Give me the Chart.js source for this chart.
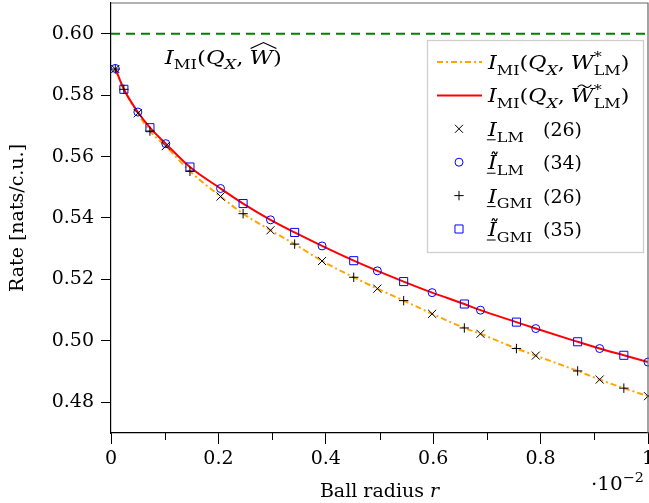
<!DOCTYPE html>
<html>
<head>
<meta charset="utf-8">
<script src="https://cdn.jsdelivr.net/npm/chart.js@4.4.1/dist/chart.umd.min.js"></script>
<style>
  html, body { margin: 0; padding: 0; background: #fff; }
  canvas { display: block; }
</style>
</head>
<body>
<canvas id="rateChart" width="649" height="503"></canvas>
<script>
// ball radius (x 10^-2) where the LM bounds were evaluated
const xLM = [0.008, 0.05, 0.102, 0.204, 0.297, 0.393, 0.496, 0.598, 0.688, 0.791, 0.91, 1.0];
const iLM = [0.5885, 0.5741, 0.5634, 0.547, 0.536, 0.526, 0.517, 0.5088, 0.5023, 0.4952, 0.4874, 0.482];
const iLMTilde = [0.5887, 0.5745, 0.5642, 0.5496, 0.5394, 0.5309, 0.5228, 0.5157, 0.51, 0.504, 0.4975, 0.4931];

// ball radius where the GMI bounds were evaluated
const xGMI = [0.008, 0.024, 0.0725, 0.147, 0.246, 0.342, 0.452, 0.545, 0.658, 0.755, 0.869, 0.955];
const iGMI = [0.5885, 0.5819, 0.5683, 0.5552, 0.5414, 0.5315, 0.5207, 0.5131, 0.5042, 0.4975, 0.4902, 0.4846];
const iGMITilde = [null, 0.5819, 0.5694, 0.5566, 0.5447, 0.5353, 0.5261, 0.5193, 0.512, 0.5061, 0.4997, 0.4953];

// the two I_MI curves
const curveX = [0.008, 0.024, 0.05, 0.0725, 0.102, 0.147, 0.204, 0.246, 0.297, 0.342, 0.393, 0.452, 0.496, 0.545, 0.598, 0.658, 0.688, 0.755, 0.791, 0.869, 0.91, 0.955, 1.0];
const curveLM = [0.5885, 0.5819, 0.5741, 0.5683, 0.5634, 0.5552, 0.547, 0.5414, 0.536, 0.5315, 0.526, 0.5207, 0.517, 0.5131, 0.5088, 0.5042, 0.5023, 0.4975, 0.4952, 0.4902, 0.4874, 0.4846, 0.482];
const curveLMTilde = [0.5887, 0.5819, 0.5745, 0.5694, 0.5642, 0.5566, 0.5496, 0.5447, 0.5394, 0.5353, 0.5309, 0.5261, 0.5228, 0.5193, 0.5157, 0.512, 0.51, 0.5061, 0.504, 0.4997, 0.4975, 0.4953, 0.4931];

const capacityX = [0, 1];
const capacityY = [0.6, 0.6];

const xTicks = [0, 0.1, 0.2, 0.3, 0.4, 0.5, 0.6, 0.7, 0.8, 0.9, 1];
const xTickLabels = ['0', '', '0.2', '', '0.4', '', '0.6', '', '0.8', '', '1'];
const yTicks = [0.48, 0.5, 0.52, 0.54, 0.56, 0.58, 0.6];

const FONT = '"DejaVu Serif"';
const S = 19;

const pts = (xs, ys) => xs.map((x, i) => ({ x: x, y: ys[i] })).filter(p => p.y !== null);

function setFont(ctx, size, italic) {
  ctx.font = (italic ? 'italic ' : '') + size + 'px ' + FONT;
}

function hat(ctx, x, y, w) {
  ctx.beginPath();
  ctx.moveTo(x - 1, y);
  ctx.lineTo(x + w / 2, y - 6);
  ctx.lineTo(x + w + 1, y);
  ctx.lineWidth = 1.1;
  ctx.stroke();
}

function tilde(ctx, x, y, w) {
  const a = x + w * 0.2, b = x + w * 0.8, m = (a + b) / 2;
  ctx.beginPath();
  ctx.moveTo(a, y + 1);
  ctx.quadraticCurveTo((a + m) / 2, y - 3, m, y);
  ctx.quadraticCurveTo((m + b) / 2, y + 3, b, y - 1.5);
  ctx.lineWidth = 1.1;
  ctx.stroke();
}

// small math typesetter: italic letters, sub/superscripts, accents, underline
// hs stretches the math glyphs sideways (the source uses wide CM fonts)
function drawMath(ctx, x, y, size, toks, hs) {
  let cx = x;
  ctx.textAlign = 'left';
  ctx.textBaseline = 'alphabetic';
  ctx.fillStyle = '#000';
  ctx.strokeStyle = '#000';
  for (const k of toks) {
    if (k.at !== undefined) { cx = x + k.at; continue; }
    if (k.gap !== undefined) { cx += k.gap; continue; }
    const sc = k.n ? 1 : hs;
    const sz = k.s ? size * 0.72 : size;
    const dy = k.s === 'sub' ? size * 0.3 : k.s === 'sup' ? -size * 0.42 : 0;
    setFont(ctx, sz, k.i);
    const w = ctx.measureText(k.t).width;
    ctx.save();
    ctx.translate(cx, y);
    ctx.scale(sc, 1);
    ctx.fillText(k.t, 0, dy);
    const sk = k.i ? size * 0.1 : 0;
    if (k.acc === 'hat') hat(ctx, sk, -size * 0.8, w);
    if (k.acc === 'tilde') tilde(ctx, sk, -size * 0.85, w);
    if (k.ul) {
      ctx.beginPath();
      ctx.moveTo(-1, 4);
      ctx.lineTo(w - 1, 4);
      ctx.lineWidth = 1;
      ctx.stroke();
    }
    ctx.restore();
    if (!k.keep) cx += w * sc;
  }
  return cx - x;
}

function imiToks(acc) {
  return [
    { t: 'I', i: 1 }, { t: 'MI', s: 'sub' }, { t: '(' }, { t: 'Q', i: 1 }, { t: 'X', i: 1, s: 'sub' },
    { t: ',' }, { gap: 6 }, { t: 'W', i: 1, acc: acc }, { t: '*', s: 'sup', keep: 1 }, { t: 'LM', s: 'sub' }, { t: ')' }
  ];
}

function boundToks(tl, sub, num) {
  return [{ t: 'I', i: 1, ul: 1, acc: tl ? 'tilde' : null }, { t: sub, s: 'sub' }, { at: 55 }, { t: num, n: 1 }];
}

const legendRows = [
  { line: '#ffa500', dash: [6, 3, 2, 3], toks: imiToks(null) },
  { line: '#ff0000', dash: [], toks: imiToks('tilde') },
  { point: 'crossRot', r: 5.7, color: '#000', toks: boundToks(false, 'LM', '(26)') },
  { point: 'circle', r: 4, color: '#0000ff', toks: boundToks(true, 'LM', '(34)') },
  { point: 'cross', r: 4.7, color: '#000', toks: boundToks(false, 'GMI', '(26)') },
  { point: 'rect', r: 5.7, color: '#0000ff', toks: boundToks(true, 'GMI', '(35)') }
];

const decorPlugin = {
  id: 'decor',
  afterDraw(chart) {
    const ctx = chart.ctx;
    const area = chart.chartArea;
    const xs = chart.scales.x, ys = chart.scales.y;
    ctx.save();

    // frame top / right
    ctx.strokeStyle = '#666';
    ctx.lineWidth = 1.2;
    ctx.beginPath();
    ctx.moveTo(area.left, area.top);
    ctx.lineTo(area.right, area.top);
    ctx.lineTo(area.right, area.bottom);
    ctx.stroke();

    // minor x ticks
    ctx.strokeStyle = '#000';
    ctx.lineWidth = 1;
    xTicks.forEach((v, i) => {
      if (xTickLabels[i] !== '') return;
      const px = Math.round(xs.getPixelForValue(v)) + 0.5;
      ctx.beginPath();
      ctx.moveTo(px, area.bottom);
      ctx.lineTo(px, area.bottom + 7);
      ctx.stroke();
    });

    // capacity label
    drawMath(ctx, xs.getPixelForValue(0.1), ys.getPixelForValue(0.6) + 30, S, [
      { t: 'I', i: 1 }, { t: 'MI', s: 'sub' }, { t: '(' }, { t: 'Q', i: 1 }, { t: 'X', i: 1, s: 'sub' },
      { t: ',' }, { gap: 6 }, { t: 'W', i: 1, acc: 'hat' }, { t: ')' }
    ], 1.2);

    // x title
    setFont(ctx, S, false);
    const w1 = ctx.measureText('Ball radius ').width;
    setFont(ctx, S, true);
    const w2 = ctx.measureText('r').width;
    const tx = (area.left + area.right) / 2 - (w1 + w2) / 2;
    drawMath(ctx, tx, 497, S, [{ t: 'Ball radius ' }, { t: 'r', i: 1 }], 1);

    // exponent
    drawMath(ctx, 591, 490, S, [{ t: '\u00b710' }, { t: '\u22122', s: 'sup' }], 1.05);

    // legend
    const bx = 427, by = 40, bw = 216, bh = 212;
    ctx.fillStyle = '#fff';
    ctx.fillRect(bx, by, bw, bh);
    ctx.strokeStyle = '#cfcfcf';
    ctx.lineWidth = 1.3;
    ctx.strokeRect(bx + 0.5, by + 0.5, bw, bh);
    legendRows.forEach((row, i) => {
      const cy = 62 + i * 33.4;
      if (row.line) {
        ctx.strokeStyle = row.line;
        ctx.lineWidth = 2;
        ctx.setLineDash(row.dash);
        ctx.beginPath();
        ctx.moveTo(437, cy);
        ctx.lineTo(482, cy);
        ctx.stroke();
        ctx.setLineDash([]);
      } else {
        ctx.strokeStyle = row.color;
        ctx.fillStyle = 'rgba(0,0,0,0)';
        ctx.lineWidth = 1;
        Chart.helpers.drawPoint(ctx, { pointStyle: row.point, radius: row.r, rotation: 0, borderWidth: 1 }, 459, cy);
      }
      drawMath(ctx, 488, cy + 7, S, row.toks, 1.17);
    });
    ctx.restore();
  }
};

const markerBase = { showLine: false, backgroundColor: 'rgba(0,0,0,0)', pointBorderWidth: 1, pointHoverRadius: 0, order: 0, clip: false };

new Chart(document.getElementById('rateChart'), {
  type: 'scatter',
  data: {
    datasets: [
      Object.assign({ label: 'I_LM', data: pts(xLM, iLM), pointStyle: 'crossRot', pointRadius: 5.7, borderColor: '#000' }, markerBase),
      Object.assign({ label: 'I~_LM', data: pts(xLM, iLMTilde), pointStyle: 'circle', pointRadius: 4, borderColor: '#0000ff' }, markerBase),
      Object.assign({ label: 'I_GMI', data: pts(xGMI, iGMI), pointStyle: 'cross', pointRadius: 4.7, borderColor: '#000' }, markerBase),
      Object.assign({ label: 'I~_GMI', data: pts(xGMI, iGMITilde), pointStyle: 'rect', pointRadius: 5.7, borderColor: '#0000ff' }, markerBase),
      {
        label: 'I_MI(Q_X, W*_LM)', data: pts(curveX, curveLM), showLine: true, pointRadius: 0,
        borderColor: '#ffa500', borderWidth: 2, borderDash: [6, 3, 2, 3], cubicInterpolationMode: 'monotone', order: 2
      },
      {
        label: 'I_MI(Q_X, W~*_LM)', data: pts(curveX, curveLMTilde), showLine: true, pointRadius: 0,
        borderColor: '#ff0000', borderWidth: 2, cubicInterpolationMode: 'monotone', order: 1
      },
      {
        label: 'I_MI(Q_X, W^)', data: pts(capacityX, capacityY), showLine: true, pointRadius: 0,
        borderColor: '#008000', borderWidth: 2, borderDash: [9, 6], order: 3
      }
    ]
  },
  options: {
    responsive: false,
    animation: false,
    events: [],
    layout: { autoPadding: false, padding: { top: 3, right: 1, left: 0, bottom: 0 } },
    plugins: {
      legend: { display: false },
      tooltip: { enabled: false }
    },
    scales: {
      x: {
        type: 'linear',
        min: 0,
        max: 1,
        afterBuildTicks: s => { s.ticks = xTicks.map(v => ({ value: v })); },
        afterFit: s => { s.height = 70; s.paddingLeft = 0; s.paddingRight = 0; },
        ticks: {
          autoSkip: false,
          maxRotation: 0,
          padding: 4,
          color: '#000',
          font: { family: FONT, size: S },
          callback: (v, i) => xTickLabels[i]
        },
        grid: {
          drawOnChartArea: false,
          tickLength: 11,
          tickColor: c => (xTickLabels[c.index] === '' ? 'rgba(0,0,0,0)' : '#000')
        },
        border: { color: '#000', width: 1.2 }
      },
      y: {
        type: 'linear',
        min: 0.47,
        max: 0.61,
        afterBuildTicks: s => { s.ticks = yTicks.map(v => ({ value: v })); },
        afterFit: s => { s.width = 111; s.paddingTop = 0; s.paddingBottom = 0; },
        ticks: {
          padding: 7,
          color: '#000',
          font: { family: FONT, size: S },
          callback: v => v.toFixed(2)
        },
        grid: { drawOnChartArea: false, tickLength: 10, tickColor: '#000' },
        border: { color: '#000', width: 1.2 },
        title: {
          display: true,
          text: 'Rate [nats/c.u.]',
          color: '#000',
          font: { family: FONT, size: S },
          padding: { top: 7, bottom: 0 }
        }
      }
    }
  },
  plugins: [decorPlugin]
});
</script>
</body>
</html>
